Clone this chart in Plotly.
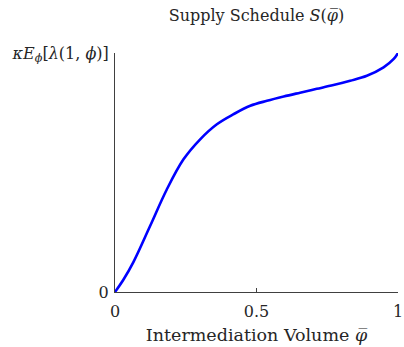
import plotly.graph_objects as go

volume = [0.0, 0.029, 0.065, 0.124, 0.183, 0.242, 0.301, 0.360, 0.419, 0.478, 0.537,
          0.596, 0.654, 0.713, 0.772, 0.831, 0.890, 0.949, 0.985, 1.0]
supply = [0.0, 0.050, 0.125, 0.276, 0.429, 0.555, 0.639, 0.702, 0.744, 0.779, 0.800,
          0.818, 0.834, 0.850, 0.866, 0.884, 0.905, 0.940, 0.975, 1.0]

x_ticks = [0, 0.5, 1]
x_labels = ["0", "0.5", "1"]
y_ticks = [0, 1]
y_labels = ["0", "<i>κE</i><sub><i>ϕ</i></sub>[<i>λ</i>(1, <i>ϕ</i>)]"]

font = "DejaVu Serif"
axcol = "#404040"

fig = go.Figure()
fig.add_trace(go.Scatter(x=volume, y=supply, mode="lines",
                         line=dict(color="#0000ff", width=2.6, shape="spline", smoothing=1.0),
                         cliponaxis=False, showlegend=False))

fig.update_layout(
    width=404, height=347,
    margin=dict(l=115, r=6, t=53, b=55),
    paper_bgcolor="white", plot_bgcolor="white",
    font=dict(family=font, size=16, color="#262626"),
    title=dict(text="Supply Schedule <i>S</i>(<i>φ̅</i>)", xref="paper", x=0.5, xanchor="center",
               yref="container", y=0.955, yanchor="middle",
               font=dict(size=16, family=font, color="#262626")),
    xaxis=dict(range=[0, 1], tickvals=x_ticks, ticktext=x_labels, ticks="inside", ticklen=4,
               tickcolor=axcol, showline=True, linecolor=axcol, linewidth=1, showgrid=False, zeroline=False,
               automargin=False, ticklabelstandoff=5,
               title=dict(text="Intermediation Volume <i>φ̅</i>", standoff=8, font=dict(size=17.5)),
               tickfont=dict(size=16)),
    yaxis=dict(range=[0, 1], tickvals=y_ticks, ticktext=y_labels, ticks="inside", ticklen=4,
               tickcolor=axcol, showline=True, linecolor=axcol, linewidth=1, showgrid=False, zeroline=False,
               automargin=False, ticklabelstandoff=2,
               tickfont=dict(size=16)),
)

fig.write_html("out.html")
